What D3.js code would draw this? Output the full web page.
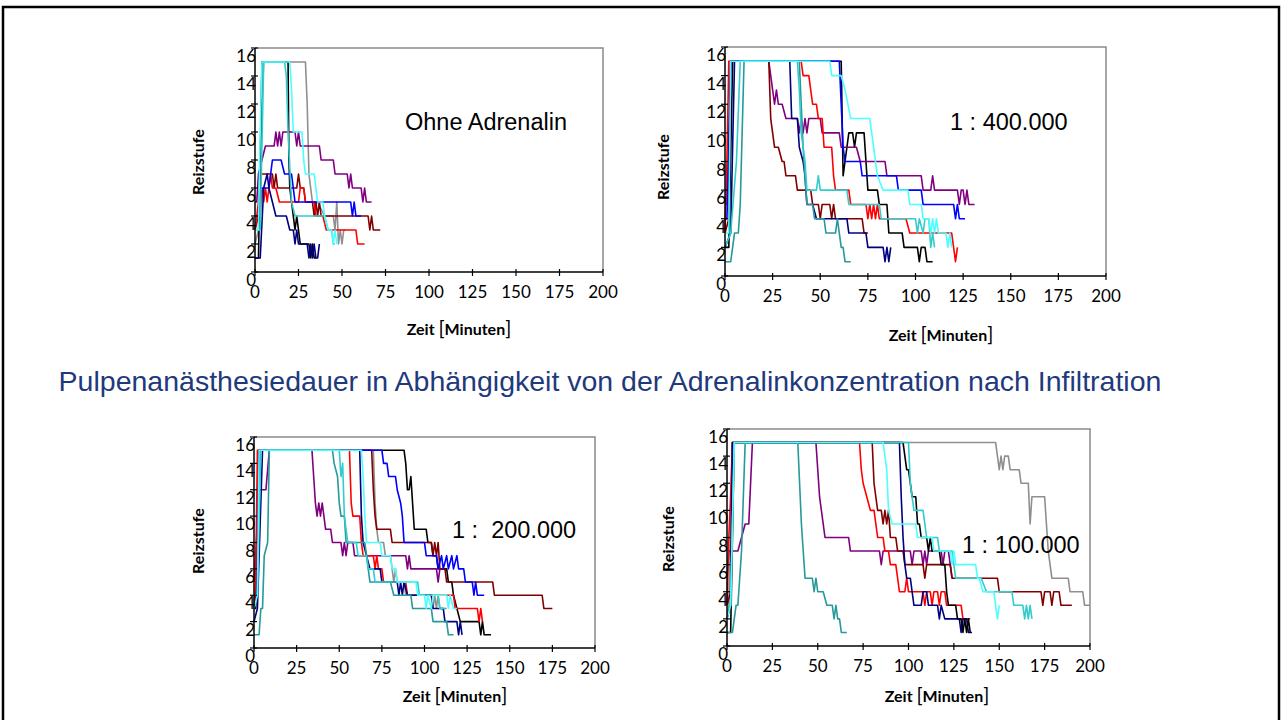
<!DOCTYPE html>
<html>
<head>
<meta charset="utf-8">
<script src="https://d3js.org/d3.v7.min.js"></script>
<style>
  body { margin: 0; padding: 0; background: #fff; }
  svg { display: block; }
  .tick-label { font-family: Lato, "Open Sans", sans-serif; font-size: 17px; fill: #000; }
  .axis-title { font-family: Lato, "Open Sans", sans-serif; font-size: 16px; font-weight: bold; fill: #000; }
  .panel-title { font-family: "Liberation Sans", Arial, sans-serif; font-size: 23.5px; fill: #000; white-space: pre; }
</style>
</head>
<body>
<script>
// axis ticks
const zeitTicks = [0, 25, 50, 75, 100, 125, 150, 175, 200];
const reizTicks = [0, 2, 4, 6, 8, 10, 12, 14, 16];

const mainTitle = "Pulpenanästhesiedauer in Abhängigkeit von der Adrenalinkonzentration nach Infiltration";
const panelTitles = ["Ohne Adrenalin", "1 : 400.000", "1 :  200.000", "1 : 100.000"];

// series: [key, [[minute, level], ...]]
const ohneAdrenalin = [
  ["gray",    [[0,2],[2,3],[4,12],[5,15],[29,15],[30,12],[31,7],[33,5],[36,5],[40,4],[45,4],[46,3],[47,5],[48,2],[49,3],[50,2],[51,3],[52,3]]],
  ["black",   [[0,1],[2,1],[3,8],[4,15],[19,15],[19.5,8],[20,6],[21,5],[22,4],[23,3],[24,4],[25,3],[26,2],[30,2],[31,2],[32,1],[33,2],[34,1],[35,1]]],
  ["purple",  [[0,5],[1,5],[2,7],[4,8],[6,9],[11,9],[12,10],[13,9],[14,10],[15,9],[16,10],[23,10],[24,9],[25,10],[26,9],[37,9],[38,8],[45,8],[46,7],[53,7],[54,6],[55,7],[56,6],[61,6],[62,5],[63,6],[64,5],[67,5]]],
  ["darkred", [[0,3],[2,4],[3,7],[10,7],[11,6],[12,7],[13,6],[24,6],[25,7],[26,6],[28,6],[29,5],[33,5],[34,4],[35,5],[36,4],[37,5],[38,4],[65,4],[66,3],[67,4],[68,3],[72,3]]],
  ["red",     [[0,3],[1,4],[2,5],[3,4],[4,6],[5,5],[6,6],[7,5],[8,6],[9,7],[10,6],[12,6],[14,5],[25,5],[26,6],[28,6],[29,5],[34,5],[35,4],[39,4],[41,3],[58,3],[59,2],[63,2]]],
  ["blue",    [[0,4],[2,4],[4,6],[8,6],[10,8],[15,8],[17,7],[21,7],[23,5],[55,5],[56,4],[57,5],[58,4],[61,4]]],
  ["navy",    [[0,1],[3,1],[5,6],[7,7],[8,6],[10,5],[12,4],[18,4],[20,3],[22,3],[23,2],[24,3],[25,2],[30,2],[31,1],[32,2],[33,1],[34,2],[35,1],[36,1],[37,2]]],
  ["turq",    [[0,3],[3,3],[5,15],[17,15],[18,14],[19,10],[21,5],[23,4],[40,4],[42,3],[44,3],[45,2],[46,2]]],
  ["cyan",    [[0,3],[2,3],[3,10],[4,15],[20,15],[21,13],[22,10],[27,10],[28,8],[29,7],[34,7],[36,5],[39,5],[40,4],[42,3],[44,3],[45,2],[46,3],[47,2]]]
];

const adrenalin400 = [
  ["black",   [[0,2],[2,2],[4,15],[61,15],[62,7],[63,8],[64,9],[65,10],[67,10],[68,9],[69,10],[73,10],[74,8],[75,6],[80,6],[81,5],[85,5],[86,3],[93,3],[94,2],[101,2],[102,1],[103,2],[105,2],[106,1],[109,1]]],
  ["purple",  [[0,5],[1,5],[3,15],[23,15],[24,14],[25,13],[26,12],[27,13],[28,12],[30,12],[32,11],[38,11],[39,10],[40,11],[41,10],[42,11],[43,10],[44,11],[50,11],[51,10],[60,10],[61,9],[69,9],[71,8],[84,8],[85,7],[103,7],[104,6],[108,6],[109,7],[110,6],[122,6],[123,5],[124,6],[125,6],[126,5],[127,6],[128,5],[131,5]]],
  ["darkred", [[0,3],[2,4],[3,15],[23,15],[24,11],[25,10],[26,9],[28,9],[30,8],[31,8],[32,7],[37,7],[38,6],[45,6],[46,5],[49,5],[50,4],[51,5],[55,5],[56,4],[57,5],[58,4],[72,4],[73,3],[75,3]]],
  ["red",     [[0,3],[1,8],[2,15],[40,15],[41,14],[44,14],[45,13],[46,12],[48,12],[49,11],[51,11],[52,9],[56,9],[57,7],[58,6],[65,6],[66,5],[74,5],[75,4],[76,5],[77,4],[78,5],[79,4],[80,5],[81,4],[95,4],[97,3],[119,3],[120,2],[121,1],[122,2]]],
  ["blue",    [[0,4],[1,4],[2,8],[3,15],[60,15],[61,12],[62,9],[63,8],[71,8],[72,7],[90,7],[91,6],[103,6],[104,5],[120,5],[121,4],[122,5],[123,4],[126,4]]],
  ["navy",    [[0,2],[3,3],[5,15],[34,15],[35,11],[38,11],[39,9],[41,8],[42,7],[43,5],[46,5],[48,4],[64,4],[65,3],[74,3],[75,2],[83,2],[84,1],[85,2],[86,1],[87,2]]],
  ["teal",    [[0,1],[3,1],[4,2],[5,3],[7,3],[8,5],[10,15],[39,15],[40,12],[41,9],[42,7],[43,5],[46,5],[47,4],[52,4],[53,3],[58,3],[59,4],[60,3],[61,2],[62,2],[63,1],[66,1]]],
  ["turq",    [[0,2],[3,3],[6,8],[8,15],[38,15],[39,13],[40,10],[42,8],[43,6],[48,6],[49,7],[50,6],[64,6],[65,5],[81,5],[82,4],[100,4],[101,3],[102,4],[104,3],[105,4],[107,4],[108,2],[109,3],[110,2]]],
  ["cyan",    [[0,3],[2,3],[3,15],[55,15],[56,14],[61,14],[63,13],[66,11],[76,11],[78,9],[80,7],[83,6],[96,6],[97,5],[103,5],[104,4],[107,4],[108,3],[109,4],[110,3],[111,4],[112,3],[116,3],[117,2],[118,3],[119,2]]]
];

const adrenalin200 = [
  ["black",   [[0,3],[1,3],[3,15],[88,15],[89,14],[90,12],[91,12],[92,13],[93,11],[94,9],[101,9],[102,8],[104,8],[105,7],[107,7],[108,6],[113,6],[114,5],[116,5],[117,4],[119,3],[121,2],[132,2],[133,1],[134,2],[135,1],[139,1]]],
  ["gray",    [[0,3],[2,4],[3,15],[70,15],[71,11],[72,9],[73,8],[76,8],[77,7],[80,7],[81,6],[82,5],[83,6],[84,5],[88,5],[89,4],[104,4],[105,3],[106,4],[107,3],[108,4],[109,3],[113,3]]],
  ["darkred", [[0,3],[1,4],[3,15],[69,15],[70,12],[71,10],[72,9],[80,9],[81,8],[104,8],[105,7],[106,8],[107,7],[108,8],[109,6],[112,6],[113,5],[140,5],[141,4],[169,4],[170,3],[175,3]]],
  ["purple",  [[0,5],[1,7],[3,12],[7,12],[9,15],[34,15],[35,13],[36,11],[37,10],[38,11],[39,10],[40,11],[41,10],[42,9],[45,9],[46,8],[51,8],[52,7],[53,8],[54,7],[55,8],[58,8],[59,7],[89,7],[90,6],[91,7],[92,6],[107,6],[108,5],[109,6]]],
  ["blue",    [[0,4],[1,4],[3,15],[75,15],[76,14],[78,14],[79,13],[83,13],[84,12],[86,11],[87,10],[88,8],[100,8],[101,7],[107,7],[108,6],[110,7],[111,6],[113,7],[114,6],[116,7],[117,6],[119,7],[120,6],[123,6],[124,5],[128,5],[129,4],[130,5],[131,4],[135,4]]],
  ["red",     [[0,3],[1,5],[2,15],[56,15],[57,11],[58,10],[62,10],[63,8],[64,7],[70,7],[71,6],[72,7],[73,6],[75,6],[76,5],[89,5],[90,4],[117,4],[118,3],[131,3],[132,2],[133,3],[134,2]]],
  ["navy",    [[0,2],[2,3],[5,15],[62,15],[63,10],[64,8],[66,7],[68,6],[74,6],[75,5],[84,5],[85,4],[86,5],[87,4],[88,5],[90,4],[104,4],[105,3],[111,3],[112,2],[119,2],[120,1],[121,2],[122,1]]],
  ["teal",    [[0,1],[3,1],[4,3],[5,3],[6,7],[8,8],[9,15],[46,15],[47,14],[49,13],[50,11],[51,10],[53,10],[54,8],[65,8],[66,7],[67,6],[68,5],[80,5],[82,4],[92,4],[93,3],[104,3],[105,2],[113,2],[114,1],[117,1]]],
  ["turq",    [[0,4],[2,4],[4,15],[50,15],[51,13],[52,14],[53,10],[55,8],[60,8],[61,7],[66,7],[67,6],[70,6],[71,5],[96,5],[97,4],[108,4],[109,3],[112,3]]],
  ["cyan",    [[0,3],[2,4],[3,15],[63,15],[64,13],[65,10],[66,8],[74,8],[75,7],[80,7],[81,6],[83,6],[84,5],[95,5],[96,4],[100,4],[101,3],[102,4],[104,3],[105,4],[113,4],[114,3],[115,4],[117,3],[119,3]]]
];

const adrenalin100 = [
  ["gray",    [[0,2],[1,3],[3,15],[148,15],[149,14],[150,13],[151,14],[152,13],[153,14],[155,14],[156,13],[161,13],[162,12],[166,12],[167,9],[168,11],[175,11],[176,9],[177,7],[179,5],[188,5],[189,4],[196,4],[197,3],[200,3]]],
  ["purple",  [[0,5],[1,7],[6,7],[8,8],[10,9],[12,9],[14,15],[49,15],[50,13],[51,11],[52,10],[53,9],[54,8],[67,8],[68,7],[84,7],[85,6],[86,7],[101,7],[102,6],[103,7],[107,7],[108,6],[109,7],[110,6],[111,7],[118,7],[119,6],[120,7],[122,7],[123,6],[124,5]]],
  ["darkred", [[0,3],[2,4],[3,15],[80,15],[81,12],[83,10],[85,10],[86,9],[87,10],[88,9],[89,10],[90,8],[93,8],[94,7],[97,7],[98,6],[108,6],[109,5],[110,6],[123,6],[124,5],[149,5],[150,4],[173,4],[174,3],[175,4],[178,4],[179,3],[180,4],[183,4],[184,3],[190,3]]],
  ["red",     [[0,3],[1,8],[2,11],[3,15],[73,15],[74,13],[75,12],[77,11],[79,10],[81,10],[82,9],[83,8],[86,8],[87,7],[89,7],[90,6],[93,6],[94,5],[95,4],[98,4],[99,5],[100,4],[108,4],[109,3],[110,4],[112,4],[113,3],[114,4],[116,4],[117,3],[118,4],[120,4],[121,3],[129,3],[130,2],[134,2]]],
  ["navy",    [[0,2],[2,3],[3,15],[95,15],[96,11],[97,8],[98,6],[99,5],[101,5],[102,4],[103,3],[107,3],[108,4],[110,4],[111,3],[116,3],[117,2],[118,3],[120,2],[128,2],[129,1],[130,2],[132,2],[133,1],[135,1]]],
  ["black",   [[0,1],[2,1],[3,8],[4,15],[97,15],[99,13],[100,13],[102,11],[104,11],[105,9],[106,9],[107,8],[110,8],[111,7],[112,8],[113,7],[117,7],[118,6],[120,6],[121,4],[122,3],[126,3],[127,2],[129,2],[130,1],[131,2],[132,1],[133,2],[134,1]]],
  ["teal",    [[0,1],[3,1],[4,2],[5,3],[6,3],[8,7],[10,15],[39,15],[40,12],[41,9],[42,7],[43,5],[47,5],[48,4],[49,5],[50,4],[53,4],[55,3],[58,3],[59,2],[60,3],[61,2],[62,2],[63,1],[66,1]]],
  ["turq",    [[0,3],[2,3],[4,15],[100,15],[101,12],[103,10],[108,10],[109,9],[110,8],[116,8],[117,7],[124,7],[125,6],[126,5],[140,5],[143,4],[157,4],[158,3],[163,3],[164,2],[165,3],[166,2],[167,3],[168,2]]],
  ["cyan",    [[0,2],[2,3],[4,15],[86,15],[87,14],[88,13],[89,10],[91,9],[104,9],[105,8],[113,8],[114,7],[123,7],[124,6],[125,7],[126,6],[137,6],[138,5],[139,5],[141,4],[147,4],[148,3],[149,2],[150,3]]]
];

const seriesColor = {
  black: "#000000", gray: "#8f8f8f", navy: "#000080", blue: "#0000ff",
  red: "#ff0000", darkred: "#800000", purple: "#800080",
  teal: "#269999", turq: "#33cccc", cyan: "#4dffff"
};

const W = 1282, H = 720;
const svg = d3.select("body").append("svg").attr("width", W).attr("height", H);

// slide frame
svg.append("rect")
  .attr("x", 3).attr("y", 7).attr("width", 1276).attr("height", 760)
  .attr("fill", "none").attr("stroke", "#000").attr("stroke-width", 2.5);

// layout of the four panels: plot box, title position, axis title centers
const panels = [
  { data: ohneAdrenalin, title: panelTitles[0], box: [255, 603, 48, 272], tpos: [405, 130], ylab: [198, 162], xlab: [459, 335] },
  { data: adrenalin400,  title: panelTitles[1], box: [725, 1106, 47, 276], tpos: [950, 130], ylab: [663, 167], xlab: [941, 341] },
  { data: adrenalin200,  title: panelTitles[2], box: [254, 595, 437, 648], tpos: [452, 538], ylab: [198, 541], xlab: [455, 702] },
  { data: adrenalin100,  title: panelTitles[3], box: [727, 1090, 429, 646], tpos: [962, 553], ylab: [668, 539], xlab: [937, 702] }
];

panels.forEach(p => {
  const [x0, x1, y0, y1] = p.box;
  const x = d3.scaleLinear().domain([0, 200]).range([x0, x1]);
  const y = d3.scaleLinear().domain([0, 16]).range([y1, y0]);
  const g = svg.append("g");

  // plot area border (top/right grey)
  g.append("path")
    .attr("d", `M${x0},${y0}H${x1}V${y1}`)
    .attr("fill", "none").attr("stroke", "#8a8a8a").attr("stroke-width", 1.5);

  // series
  const line = d3.line().x(d => x(d[0])).y(d => y(d[1]));
  g.selectAll(".series")
    .data(p.data)
    .enter().append("path")
    .attr("class", "series")
    .attr("d", d => line(d[1]))
    .attr("fill", "none")
    .attr("stroke", d => seriesColor[d[0]])
    .attr("stroke-width", 1.6)
    .attr("stroke-linejoin", "round");

  // axes
  g.append("line").attr("x1", x0).attr("x2", x0).attr("y1", y0).attr("y2", y1)
    .attr("stroke", "#000").attr("stroke-width", 1.5);
  g.append("line").attr("x1", x0).attr("x2", x1).attr("y1", y1).attr("y2", y1)
    .attr("stroke", "#000").attr("stroke-width", 1.5);

  g.selectAll(".yt").data(reizTicks).enter().append("line")
    .attr("x1", x0 - 4).attr("x2", x0 + 3)
    .attr("y1", d => y(d)).attr("y2", d => y(d))
    .attr("stroke", "#000").attr("stroke-width", 1.2);
  g.selectAll(".xt").data(zeitTicks).enter().append("line")
    .attr("x1", d => x(d)).attr("x2", d => x(d))
    .attr("y1", y1 - 3).attr("y2", y1 + 4)
    .attr("stroke", "#000").attr("stroke-width", 1.2);

  g.selectAll(".ylab").data(reizTicks).enter().append("text")
    .attr("class", "tick-label")
    .attr("x", x0 + 1).attr("y", d => y(d) + 14)
    .attr("text-anchor", "end")
    .text(d => d);
  g.selectAll(".xlab").data(zeitTicks).enter().append("text")
    .attr("class", "tick-label")
    .attr("x", d => x(d)).attr("y", y1 + 26)
    .attr("text-anchor", "middle")
    .text(d => d);

  // axis titles
  g.append("text").attr("class", "axis-title")
    .attr("transform", `translate(${p.ylab[0] + 6},${p.ylab[1]})rotate(-90)`)
    .attr("text-anchor", "middle")
    .text("Reizstufe");
  const xt = g.append("text").attr("class", "axis-title")
    .attr("x", p.xlab[0]).attr("y", p.xlab[1])
    .attr("text-anchor", "middle");
  xt.append("tspan").text("Zeit ");
  xt.append("tspan").attr("font-weight", "normal").attr("font-size", "20px").text("[");
  xt.append("tspan").text("Minuten");
  xt.append("tspan").attr("font-weight", "normal").attr("font-size", "20px").text("]");

  g.append("text").attr("class", "panel-title")
    .attr("x", p.tpos[0]).attr("y", p.tpos[1])
    .text(p.title);
});

// centre title, scaled to its width in the slide
const title = svg.append("text")
  .attr("x", 610).attr("y", 391)
  .attr("text-anchor", "middle")
  .attr("font-family", "'Liberation Sans', Arial, sans-serif")
  .attr("font-size", 23)
  .attr("fill", "#1f3a7c")
  .text(mainTitle);
const tw = title.node().getComputedTextLength();
title.attr("font-size", 23 * 1103 / tw);
</script>
</body>
</html>
